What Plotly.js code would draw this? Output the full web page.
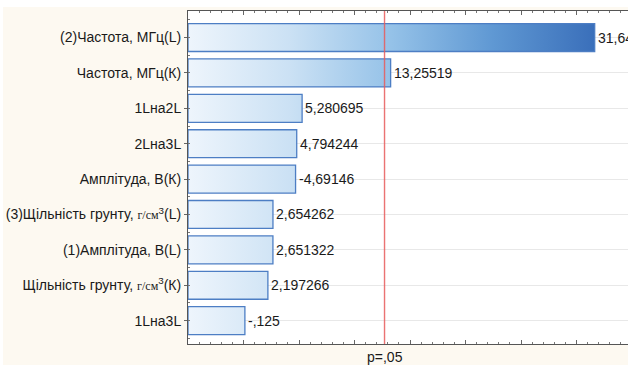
<!DOCTYPE html>
<html>
<head>
<meta charset="utf-8">
<script src="https://cdn.plot.ly/plotly-3.0.1.min.js"></script>
<style>
  html, body { margin: 0; padding: 0; background: #ffffff; }
  #chart { width: 628px; height: 367px; }
</style>
</head>
<body>
<div id="chart"></div>
<script>
// Pareto chart of standardized effects
const factors = [
  '(2)Частота, МГц(L)',
  'Частота, МГц(К)',
  '1Lна2L',
  '2Lна3L',
  'Амплітуда, В(К)',
  '(3)Щільність грунту, <span style="font-family:\'Liberation Serif\',serif;font-size:12px">г/см</span><sup>3</sup>(L)',
  '(1)Амплітуда, В(L)',
  'Щільність грунту, <span style="font-family:\'Liberation Serif\',serif;font-size:12px">г/см</span><sup>3</sup>(К)',
  '1Lна3L'
];
const effects = [31.64, 13.25519, 5.280695, 4.794244, -4.69146, 2.654262, 2.651322, 2.197266, -0.125];
const pCritical = 12.706;   // t(0.975; df = 1)
const pLabel = 'p=,05';

const xMin = -5, xMax = 34.64;
const halfBar = 0.395;
const FONT = 'Liberation Sans, Arial, sans-serif';

function fmt(v) {
  return String(v).replace('.', ',').replace(/^(-?)0,/, '$1,');
}

const traces = [];
effects.forEach((v, i) => {
  const len = Math.abs(v);
  traces.push({
    type: 'scatter',
    mode: 'lines',
    x: [xMin, len, len, xMin, xMin],
    y: [i - halfBar, i - halfBar, i + halfBar, i + halfBar, i - halfBar],
    fill: 'toself',
    fillgradient: {
      type: 'horizontal',
      start: xMin,
      stop: Math.max(...effects.map(Math.abs)),
      colorscale: [[0, '#eef5fc'], [0.25, '#cbe1f4'], [0.5, '#95c2e8'], [0.75, '#5f98d3'], [1, '#3a6fba']]
    },
    line: { color: '#4d7ec4', width: 1.3 },
    hoverinfo: 'skip',
    showlegend: false
  });
});

// value labels at the end of each bar
const valueNotes = effects.map((v, i) => ({
  x: Math.abs(v), xref: 'x', y: i, yref: 'y',
  xanchor: 'left', yanchor: 'middle', xshift: 1,
  text: fmt(v), showarrow: false,
  font: { family: FONT, size: 14, color: '#1a1a1a' }
}));

const layout = {
  width: 628,
  height: 367,
  margin: { l: 188, r: 0, t: 11, b: 23 },
  paper_bgcolor: '#ffffff',
  plot_bgcolor: '#ffffff',
  font: { family: FONT, size: 14, color: '#1a1a1a' },
  xaxis: {
    range: [xMin, xMax],
    showgrid: false,
    zeroline: false,
    showticklabels: false,
    tickmode: 'linear',
    tick0: 0,
    dtick: 5,
    ticks: 'inside',
    ticklen: 4,
    tickcolor: '#666',
    showline: true,
    linecolor: '#555',
    linewidth: 1,
    mirror: 'ticks',
    minor: { tickmode: 'linear', tick0: 0, dtick: 1, ticks: 'inside', ticklen: 2, tickcolor: '#777' }
  },
  yaxis: {
    range: [8.66, -0.75],
    tickmode: 'array',
    tickvals: factors.map((f, i) => i),
    ticktext: factors,
    ticks: 'outside',
    ticklen: 3,
    tickcolor: '#666',
    tickfont: { family: FONT, size: 14, color: '#1a1a1a' },
    showgrid: true,
    gridcolor: '#e8e8e8',
    gridwidth: 1,
    zeroline: false,
    showline: true,
    linecolor: '#555',
    linewidth: 1,
    mirror: false,
    minor: { tickmode: 'linear', tick0: 0, dtick: 0.5, ticks: 'inside', ticklen: 2, tickcolor: '#777', showgrid: false }
  },
  shapes: [
    { type: 'rect', layer: 'below', xref: 'paper', yref: 'paper',
      x0: -0.4205, x1: 1.1, y0: -0.063, y1: 1.012,
      fillcolor: '#fdf9f1', line: { width: 0 } },
    { type: 'rect', layer: 'below', xref: 'paper', yref: 'paper',
      x0: 0, x1: 1.1, y0: 0, y1: 1,
      fillcolor: '#ffffff', line: { width: 0 } },
    { type: 'line', xref: 'x', yref: 'paper',
      x0: pCritical, x1: pCritical, y0: 0, y1: 1,
      line: { color: 'rgba(232,90,90,0.85)', width: 1.4 } }
  ],
  annotations: valueNotes.concat([
    { x: pCritical, xref: 'x', y: 0, yref: 'paper', yanchor: 'top', yshift: -3,
      text: pLabel, showarrow: false,
      font: { family: FONT, size: 14, color: '#1a1a1a' } }
  ])
};

Plotly.newPlot('chart', traces, layout, { displayModeBar: false, staticPlot: true });
</script>
</body>
</html>
